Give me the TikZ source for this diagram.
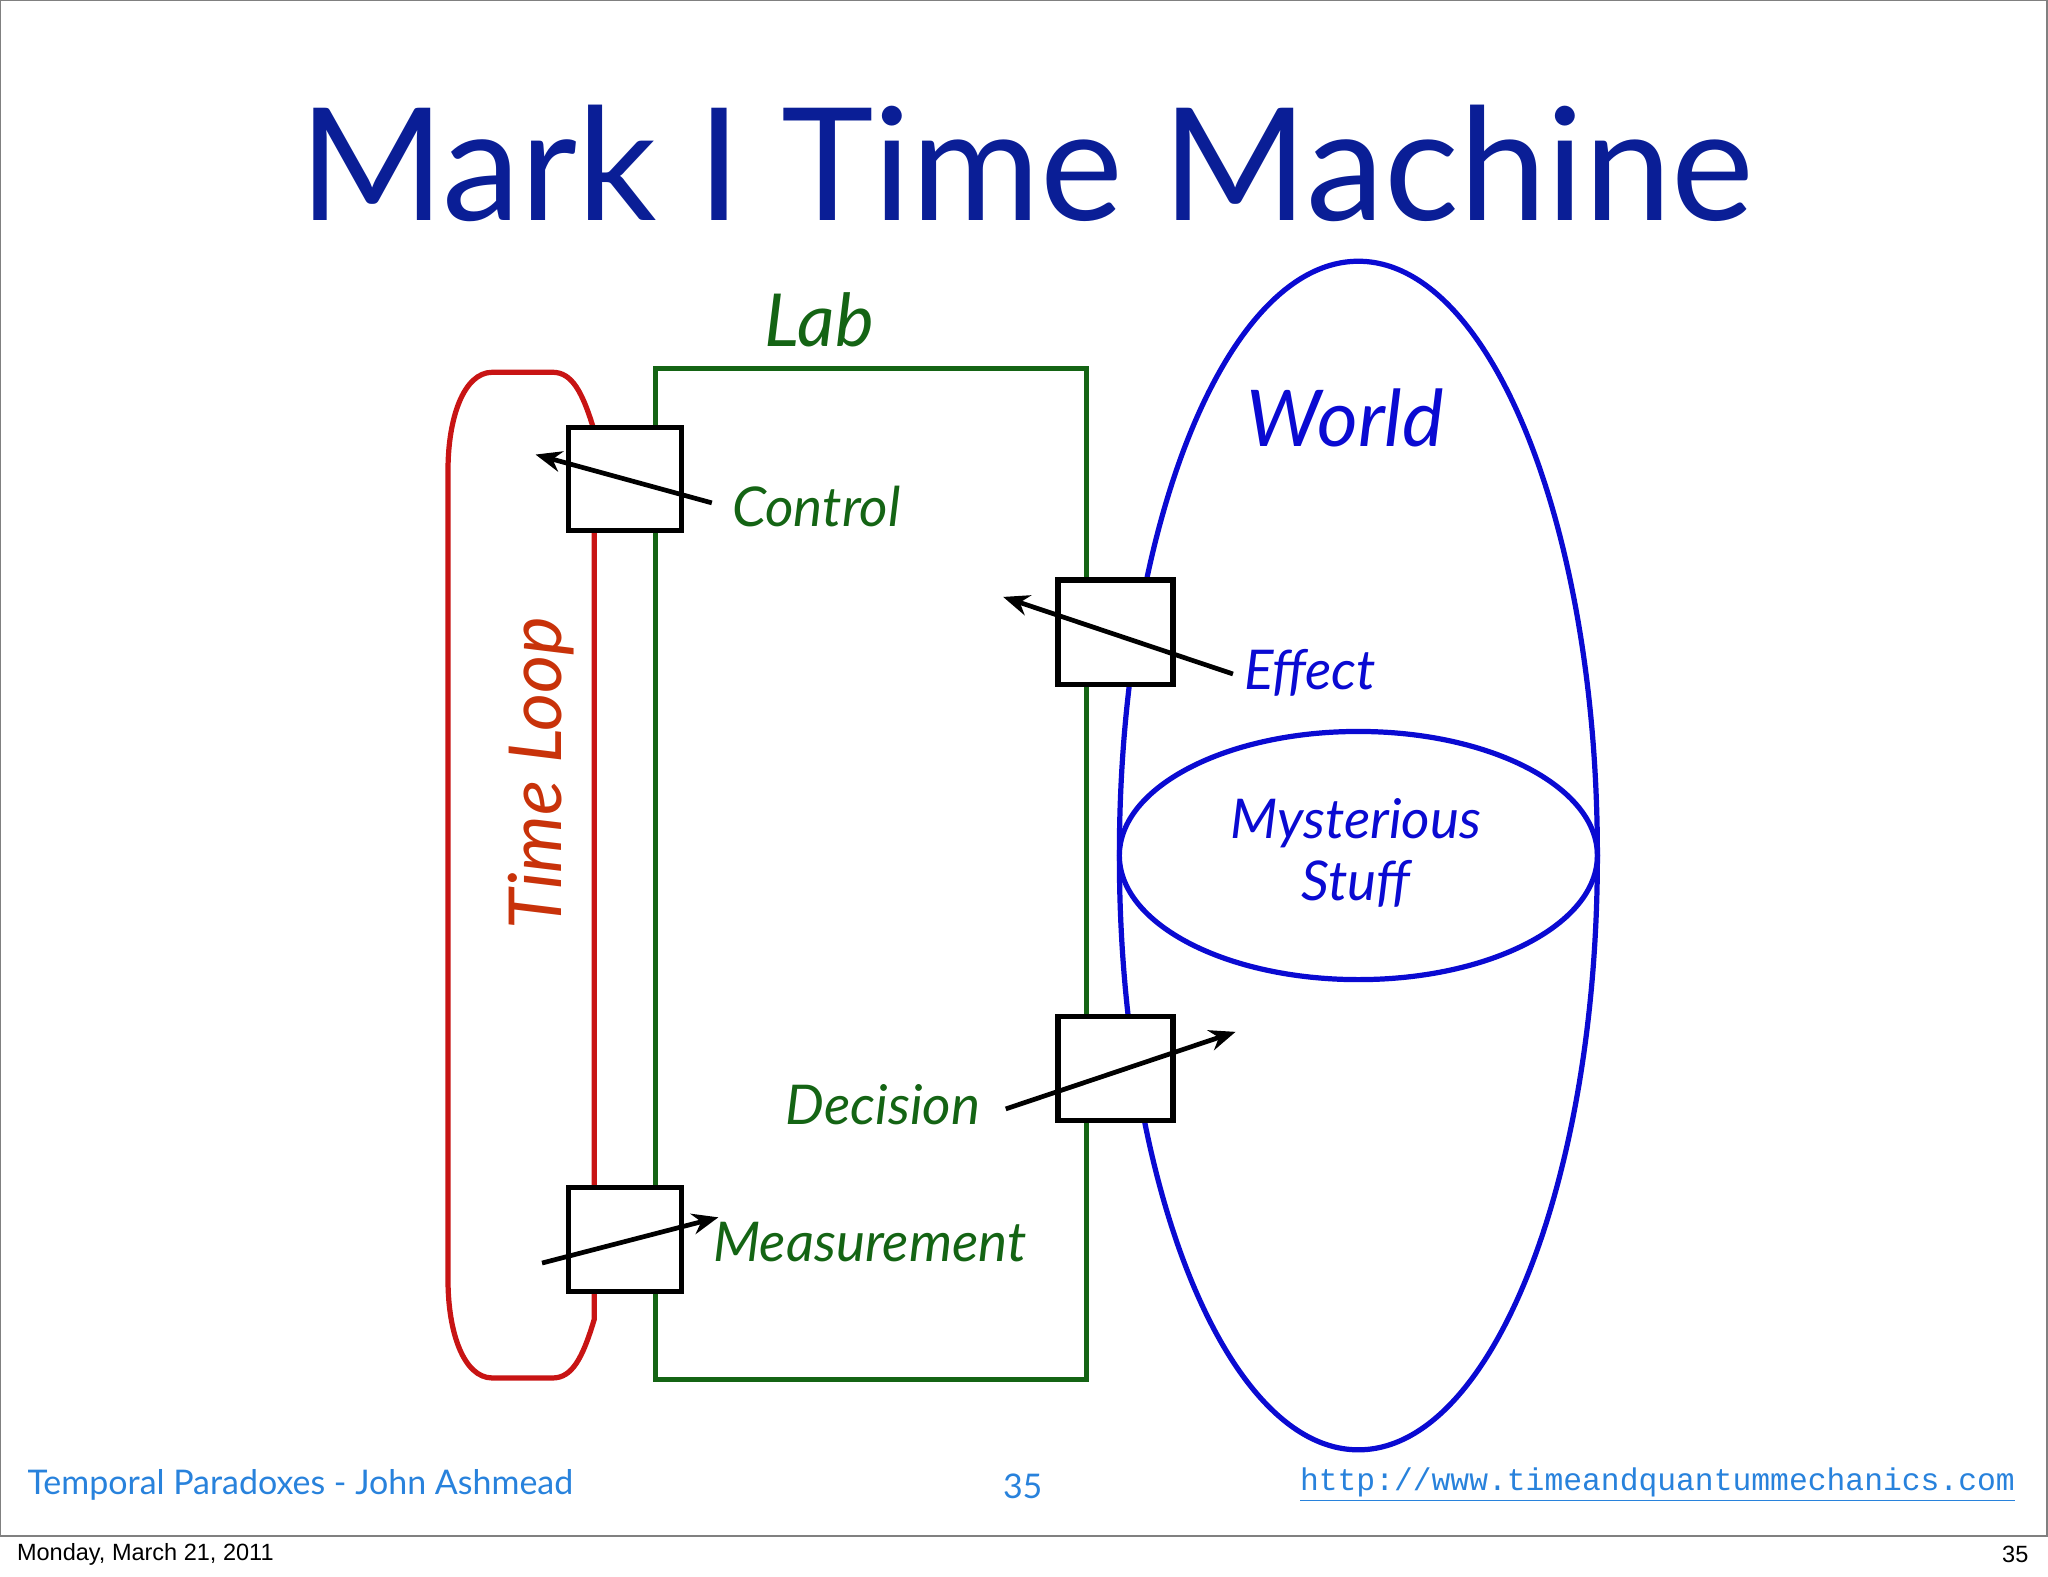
\documentclass[tikz,border=0pt]{standalone}
\usepackage{fontspec}
\setmainfont{Lato}
\newfontfamily\foot{Liberation Sans}
\newfontfamily\mono{Liberation Mono}
\usetikzlibrary{arrows.meta}
\definecolor{tblue}{RGB}{10,30,150}
\definecolor{wblue}{RGB}{10,10,210}
\definecolor{lgreen}{RGB}{20,100,20}
\definecolor{lred}{RGB}{200,20,20}
\definecolor{lorange}{RGB}{200,50,10}
\definecolor{fblue}{RGB}{40,130,220}
\begin{document}
\begin{tikzpicture}[x=0.5pt,y=-0.5pt,
  box/.style={draw=black,line width=2pt,fill=white},
  arr/.style={line width=1.8pt,-{Stealth[length=10pt,width=8pt]}},
  lab/.style={font=\itshape\fontsize{21}{24}\selectfont}]
\useasboundingbox (0,0) rectangle (1568,1207);
\draw[gray,line width=0.6pt] (0,0) rectangle (1567,1176);
\node[font=\fontsize{60}{64}\selectfont,text=tblue] (title) at (786,125) {Mark I Time Machine};
% time loop
\draw[lred,line width=2pt] (455,330) .. controls (446,300) and (438,285) .. (423,285) -- (377,285)
  .. controls (355,285) and (343,320) .. (343,360) -- (343,980)
  .. controls (343,1020) and (355,1055) .. (377,1055) -- (423,1055)
  .. controls (438,1055) and (446,1040) .. (455,1010) -- cycle;
\draw[lgreen,line width=2pt] (502,282) rectangle (832,1056);
\node[rotate=90,text=lorange,font=\itshape\fontsize{28}{30}\selectfont] (tl) at (414,592) {Time Loop};
\node[text=lgreen,font=\itshape\fontsize{28}{30}\selectfont] (labl) at (627,245) {Lab};
% world
\draw[wblue,line width=2pt] (1040,655) ellipse [x radius=183,y radius=455];
\draw[wblue,line width=2pt] (1040,655) ellipse [x radius=183,y radius=95];
\node[text=wblue,font=\itshape\fontsize{30}{32}\selectfont] (world) at (1030,320) {World};
\node[text=wblue,lab,align=center] (ms) at (1038,653) {Mysterious\\Stuff};
% boxes
\draw[box] (435,327) rectangle (522,406);
\draw[box] (435,909) rectangle (522,989);
\draw[box] (810,444) rectangle (898,524);
\draw[box] (810,778) rectangle (898,858);
\coordinate (c1) at (545,385); \coordinate (c2) at (410,348);
\coordinate (e1) at (944,516); \coordinate (e2) at (768,457);
\coordinate (d1) at (770,849); \coordinate (d2) at (946,790);
\coordinate (m1) at (415,967); \coordinate (m2) at (550,932);
\draw[arr] (c1) -- (c2);
\draw[arr] (e1) -- (e2);
\draw[arr] (d1) -- (d2);
\draw[arr] (m1) -- (m2);
\node[lab,text=lgreen] (ctl) at (625,388) {Control};
\node[lab,text=wblue] (eff) at (1003,515) {Effect};
\node[lab,text=lgreen] (dec) at (676,846) {Decision};
\node[lab,text=lgreen] (mea) at (666,951) {Measurement};
% footer
\node[anchor=west,text=fblue,font=\fontsize{13}{15}\selectfont] (f1) at (14,1137) {Temporal Paradoxes - John Ashmead};
\node[text=fblue,font=\fontsize{13}{15}\selectfont] (f2) at (783,1138) {35};
\node[anchor=east,text=fblue,font=\mono\fontsize{12}{14}\selectfont,inner sep=0pt] (f3) at (1543,1137) {\underline{http://www.timeandquantummechanics.com}};
\node[anchor=west,font=\foot\fontsize{9}{10}\selectfont] (f4) at (6,1190) {Monday, March 21, 2011};
\node[anchor=east,font=\foot\fontsize{9}{10}\selectfont] (f5) at (1560,1190) {35};
\end{tikzpicture}
\end{document}
